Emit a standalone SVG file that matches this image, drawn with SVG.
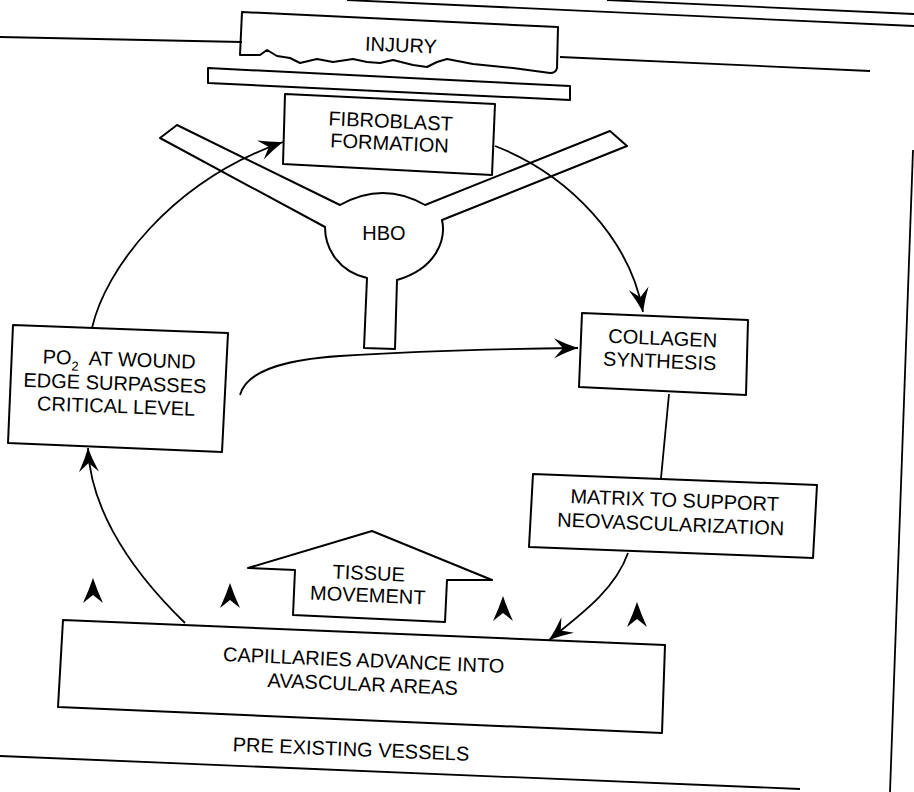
<svg xmlns="http://www.w3.org/2000/svg" xmlns:xlink="http://www.w3.org/1999/xlink" width="914" height="792" viewBox="0 0 914 792">
<style>
.bx{fill:none;stroke:#000;stroke-width:2;stroke-linejoin:round}
.ln{fill:none;stroke:#000;stroke-width:1.8}
.cn{fill:none;stroke:#000;stroke-width:1.8}
.t{font-family:"Liberation Sans",Arial,Helvetica,sans-serif;font-size:20px;fill:#000;text-anchor:middle}
.sub{font-size:13px}
</style>
<defs>
<marker id="ah" viewBox="-26 -12 28 24" refX="0" refY="0" markerWidth="28" markerHeight="24" markerUnits="userSpaceOnUse" orient="auto">
<path d="M0,0 Q-12,-4 -24,-10 L-15,0 L-24,10 Q-12,4 0,0 Z" fill="#000"/>
</marker>
<path id="chev" d="M0,0 Q-4,12 -10,25 L0,17 L10,25 Q4,12 0,0 Z" fill="#000"/>
</defs>
<rect width="914" height="792" fill="#fff"/>

<g id="frame" class="ln">
<line x1="0" y1="37" x2="242" y2="42"/>
<line x1="560" y1="57" x2="870" y2="71"/>
<line x1="347" y1="0" x2="914" y2="26"/>
<line x1="607" y1="0" x2="914" y2="14"/>
<line x1="913" y1="150" x2="890" y2="792"/>
<line x1="0" y1="756" x2="800" y2="789"/>
</g>

<g id="injury">
<path class="bx" d="M242,12 L558,27 L557,68 Q556,73 550,73 L513,68 L473,64 L447,59 L437,62 L427,67 L413,65 L393,60 L380,63 L367,62 L353,59 L333,62 L317,59 L300,63 L290,58 L277,56 L267,50 L260,55 L240,55 Z"/>
<text class="t" x="401" y="52" transform="rotate(2.5 401 45)">INJURY</text>
</g>

<g id="barrier">
<path class="bx" d="M208,68 L570,86 L570,100 L208,83 Z"/>
</g>

<g id="fibroblast">
<path class="bx" d="M285,94 L495,104 L492,175 L283,164 Z"/>
<g transform="rotate(2.6 390 135)">
<text class="t" x="390" y="128">FIBROBLAST</text>
<text class="t" x="390" y="150">FORMATION</text>
</g>
</g>

<g id="hbo">
<path class="bx" d="M177,125 L340,205 Q383,181 425,205 L610,131 L627,146 L442,220 C446,238 438,268 397,280 L395,349 L364,348 L367,278 C340,272 325,250 325,227 L160,138 Z"/>
<text class="t" x="384" y="240">HBO</text>
</g>

<g id="po2">
<path class="bx" d="M13,325 L228,333 L222,452 L8,443 Z"/>
<g transform="rotate(2 115 380)">
<text class="t" x="42" y="366" style="text-anchor:start">PO<tspan class="sub" dy="6">2</tspan><tspan dy="-6" x="88">AT WOUND</tspan></text>
<text class="t" x="115" y="390">EDGE SURPASSES</text>
<text class="t" x="117" y="413">CRITICAL LEVEL</text>
</g>
</g>

<g id="collagen">
<path class="bx" d="M582,313 L748,320 L746,395 L579,387 Z"/>
<g transform="rotate(2.4 661 355)">
<text class="t" x="662" y="345">COLLAGEN</text>
<text class="t" x="660" y="368">SYNTHESIS</text>
</g>
</g>

<g id="matrix">
<path class="bx" d="M533,474 L817,485 L813,558 L529,547 Z"/>
<g transform="rotate(2.2 673 518)">
<text class="t" x="674" y="507">MATRIX TO SUPPORT</text>
<text class="t" x="671" y="531">NEOVASCULARIZATION</text>
</g>
</g>

<g id="tissue">
<path class="bx" d="M372,531 L492,580 L447,580 L445,622 L293,615 L295,570 L248,568 Z"/>
<g transform="rotate(2.4 368 590)">
<text class="t" x="368" y="580">TISSUE</text>
<text class="t" x="368" y="602">MOVEMENT</text>
</g>
</g>

<g id="capillaries">
<path class="bx" d="M63,620 L665,645 L662,733 L58,707 Z"/>
<g transform="rotate(2.4 363 678)">
<text class="t" x="363" y="667">CAPILLARIES ADVANCE INTO</text>
<text class="t" x="363" y="691">AVASCULAR AREAS</text>
</g>
</g>

<g id="vessels">
<text class="t" x="351" y="756" transform="rotate(2.3 351 750)">PRE EXISTING VESSELS</text>
</g>

<g id="sprouts">
<use xlink:href="#chev" x="93" y="578"/>
<use xlink:href="#chev" x="230" y="583"/>
<use xlink:href="#chev" x="503" y="596"/>
<use xlink:href="#chev" x="637" y="602"/>
</g>

<g id="connectors">
<path class="cn" marker-end="url(#ah)" d="M92,328 C105,270 170,182 283,142"/>
<path class="cn" marker-end="url(#ah)" d="M495,146 C570,175 630,240 643,312"/>
<path class="cn" marker-end="url(#ah)" d="M240,395 C246,372 280,360 340,356 S480,349 578,348"/>
<path class="cn" d="M669,394 L661,478"/>
<path class="cn" marker-end="url(#ah)" d="M628,553 C615,590 580,615 549,640"/>
<path class="cn" marker-end="url(#ah)" d="M185,623 C120,560 90,500 88,448"/>
</g>
</svg>
